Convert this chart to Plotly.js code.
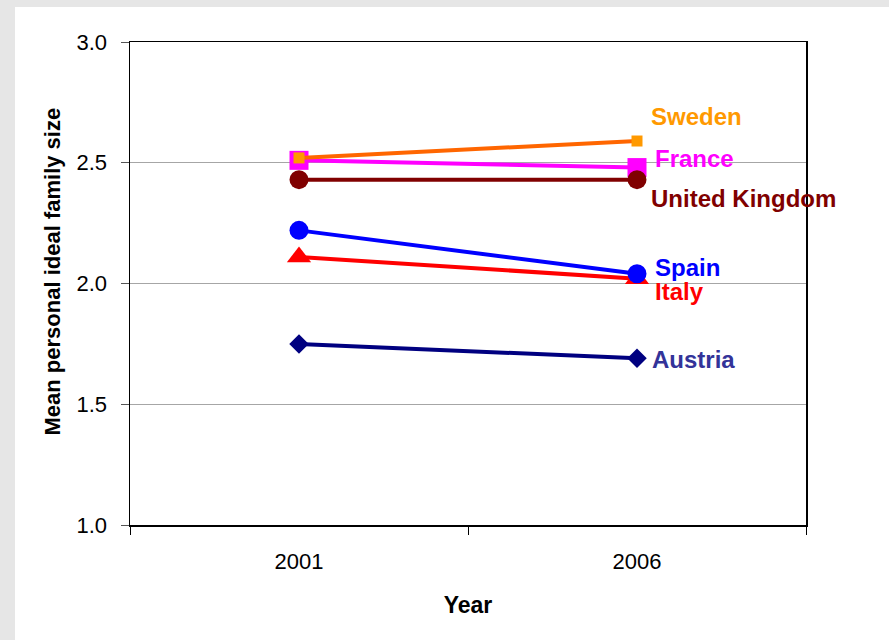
<!DOCTYPE html>
<html>
<head>
<meta charset="utf-8">
<script src="https://cdn.plot.ly/plotly-3.0.1.min.js"></script>
<style>
  html, body { margin: 0; padding: 0; background: #e6e6e6; width: 889px; height: 640px; overflow: hidden; }
  #chart { position: absolute; left: 15px; top: 7px; width: 874px; height: 633px; background: #ffffff; }
</style>
</head>
<body>
<div id="chart"></div>
<script>
// Survey years on the category axis
const years = ['2001', '2006'];

// Mean personal ideal family size by country
const austria = [1.75, 1.69];
const italy = [2.11, 2.02];
const spain = [2.22, 2.04];
const france = [2.51, 2.48];
const sweden = [2.52, 2.59];
const unitedKingdom = [2.43, 2.43];

const countries = ['Austria', 'Italy', 'Spain', 'France', 'Sweden', 'United Kingdom'];
const yTicks = [1.0, 1.5, 2.0, 2.5, 3.0];

const seriesStyle = {
  'Austria':        { values: austria,       line: '#000080', marker: '#000080', symbol: 'diamond',     size: 15, label: '#333399', dx: 13, dy: -1 },
  'Italy':          { values: italy,         line: '#ff0000', marker: '#ff0000', symbol: 'triangle-up', size: 21, label: '#ff0000', dx: 16, dy: -13 },
  'Spain':          { values: spain,         line: '#0000ff', marker: '#0000ff', symbol: 'circle',      size: 19, label: '#0000ff', dx: 16, dy: 6 },
  'France':         { values: france,        line: '#ff00ff', marker: '#ff00ff', symbol: 'square',      size: 19, label: '#ff00ff', dx: 16, dy: 9 },
  'Sweden':         { values: sweden,        line: '#ff6600', marker: '#ff9900', symbol: 'square',      size: 11, label: '#ff9900', dx: 12, dy: 25 },
  'United Kingdom': { values: unitedKingdom, line: '#800000', marker: '#800000', symbol: 'circle',      size: 19, label: '#800000', dx: 12, dy: -19 }
};

const traces = countries.map(name => {
  const s = seriesStyle[name];
  return {
    type: 'scatter',
    mode: 'lines+markers',
    name: name,
    x: years,
    y: s.values,
    line: { color: s.line, width: 4 },
    marker: { color: s.marker, symbol: s.symbol, size: s.size, line: { width: 0 } },
    hoverinfo: 'name+y'
  };
});

// Country names placed beside the 2006 points (category index of the last year)
const lastIdx = years.length - 1;
const labels = countries.map(name => {
  const s = seriesStyle[name];
  return {
    xref: 'x', yref: 'y',
    x: lastIdx,
    y: s.values[lastIdx],
    text: '<b>' + name + '</b>',
    showarrow: false,
    xanchor: 'left', yanchor: 'middle',
    xshift: s.dx, yshift: s.dy,
    font: { family: 'Liberation Sans, Arial, sans-serif', size: 24, color: s.label }
  };
});

labels.push({
  xref: 'paper', yref: 'paper',
  x: 0, y: 0.5,
  xshift: -78, yshift: 12,
  text: '<b>Mean personal ideal family size</b>',
  textangle: -90,
  showarrow: false,
  xanchor: 'center', yanchor: 'middle',
  font: { family: 'Liberation Sans, Arial, sans-serif', size: 22, color: '#000000' }
});

const layout = {
  width: 874,
  height: 633,
  margin: { l: 115, r: 83, t: 35, b: 115 },
  paper_bgcolor: '#ffffff',
  plot_bgcolor: '#ffffff',
  showlegend: false,
  font: { family: 'Liberation Sans, Arial, sans-serif', size: 22, color: '#000000' },
  xaxis: {
    type: 'category',
    range: [-0.5, 1.5],
    tickson: 'boundaries',
    ticks: 'outside',
    ticklen: 8,
    tickcolor: '#000000',
    tickwidth: 1,
    ticklabelstandoff: 16,
    showgrid: false,
    showline: true,
    linecolor: '#000000',
    linewidth: 1.5,
    mirror: true,
    zeroline: false,
    title: { text: '<b>Year</b>', font: { size: 23 }, standoff: 24 }
  },
  yaxis: {
    range: [1, 3],
    tickvals: yTicks,
    tickformat: '.1f',
    ticks: 'outside',
    ticklen: 8,
    tickcolor: '#555555',
    tickwidth: 1,
    ticklabelstandoff: 9,
    showgrid: true,
    gridcolor: '#a6a6a6',
    gridwidth: 1,
    showline: true,
    linecolor: '#000000',
    linewidth: 1.5,
    mirror: true,
    zeroline: false
  },
  annotations: labels
};

Plotly.newPlot('chart', traces, layout, { displayModeBar: false, staticPlot: true });
</script>
</body>
</html>
